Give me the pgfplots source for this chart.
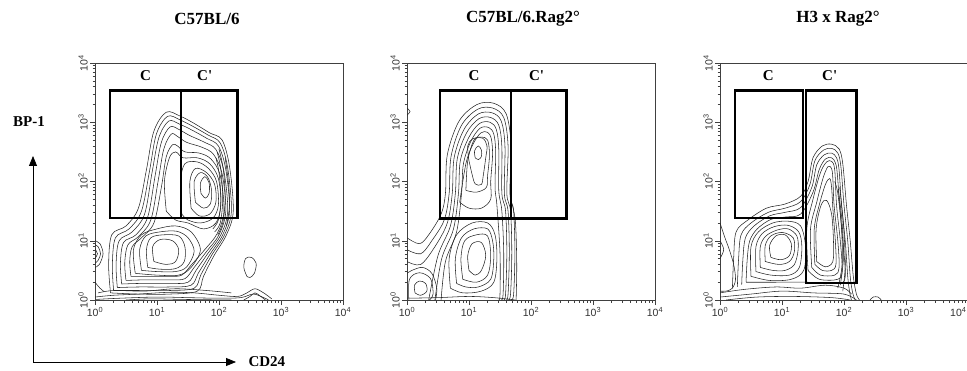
\documentclass[border=0pt]{standalone}
\usepackage{pgfplots}
\pgfplotsset{compat=1.18}
\usepackage{fontspec}
\setmainfont{Liberation Serif}
\setsansfont{Liberation Sans}
\usetikzlibrary{arrows.meta}

\newcommand{\tl}[1]{10\textsuperscript{#1}}
\pgfplotsset{
 facs/.style={scale only axis, width=248pt, height=237pt,
  xmin=0,xmax=4,ymin=0,ymax=4,
  axis line style={black!75, line width=0.6pt},
  xtick={0,1,2,3,4}, ytick={0,1,2,3,4},
  xticklabels={\tl{0},\tl{1},\tl{2},\tl{3},\tl{4}},
  yticklabels={\tl{0},\tl{1},\tl{2},\tl{3},\tl{4}},
  minor xtick={0.301,0.477,0.602,0.699,0.778,0.845,0.903,0.954,1.301,1.477,1.602,1.699,1.778,1.845,1.903,1.954,2.301,2.477,2.602,2.699,2.778,2.845,2.903,2.954,3.301,3.477,3.602,3.699,3.778,3.845,3.903,3.954},
  minor ytick={0.301,0.477,0.602,0.699,0.778,0.845,0.903,0.954,1.301,1.477,1.602,1.699,1.778,1.845,1.903,1.954,2.301,2.477,2.602,2.699,2.778,2.845,2.903,2.954,3.301,3.477,3.602,3.699,3.778,3.845,3.903,3.954},
  tick align=outside, xtick pos=left, ytick pos=left,
  major tick length=5pt, minor tick length=2.5pt,
  every tick/.style={black!75, line width=0.5pt},
  tick label style={font=\sffamily\fontsize{10.5}{10.5}\selectfont, text=black!80, inner sep=2pt},
  yticklabel style={rotate=90, anchor=south},
  xticklabel style={anchor=north},
  clip=true},
 ct/.style={black!85, line width=0.55pt, smooth, tension=0.55, mark=none},
 gate/.style={black, line width=2.5pt, sharp plot, mark=none, line join=miter},
}
\tikzset{glab/.style={font=\bfseries\fontsize{15}{15}\selectfont}}

\begin{document}
\begin{tikzpicture}
\useasboundingbox (0,0) rectangle (967pt,370pt);
\clip (0,0) rectangle (967pt,370pt);

% titles and axis arrows
\node[font=\bfseries\fontsize{17}{17}\selectfont] at (207pt,351pt) {C57BL/6};
\node[font=\bfseries\fontsize{17}{17}\selectfont] at (523pt,351pt) {C57BL/6.Rag2°};
\node[font=\bfseries\fontsize{17}{17}\selectfont] at (838pt,351pt) {H3 x Rag2°};
\node[font=\bfseries\fontsize{15}{15}\selectfont] at (29pt,248pt) {BP-1};
\node[font=\bfseries\fontsize{15}{15}\selectfont, anchor=west] at (245pt,8pt) {CD24};
\draw[-{Triangle[length=10pt,width=8pt]}, line width=0.8pt] (33pt,8pt) -- (33pt,214pt);
\draw[-{Triangle[length=10pt,width=8pt]}, line width=0.8pt] (33pt,8pt) -- (236pt,8pt);

% ---------------- Panel 1: C57BL/6 ----------------
\begin{axis}[facs, at={(95pt,70pt)}, anchor=south west]
\addplot[ct] coordinates {(0.0,0.05)(0.3,0.08)(0.7,0.1)(1.2,0.13)(1.6,0.12)(2.0,0.08)(2.3,0.06)(2.45,0.12)(2.58,0.19)(2.72,0.12)(2.85,0.02)};
\addplot[ct] coordinates {(0.02,0.01)(0.4,0.03)(1.0,0.05)(1.5,0.04)(2.0,0.03)(2.35,0.04)(2.55,0.1)(2.7,0.05)(2.8,0.0)};
\addplot[ct] coordinates {(0.05,0.12)(0.3,0.16)(0.8,0.15)(1.3,0.19)(1.8,0.16)(2.2,0.12)};
\addplot[ct] coordinates {(0.5,0.0)(0.9,0.02)(1.4,0.01)(2.2,0.0)};
\addplot[ct] coordinates {(2.4,0.0)(2.5,0.06)(2.58,0.12)(2.66,0.07)(2.75,0.0)};
\addplot[ct] coordinates {(0.0,0.3)(0.08,0.2)(0.15,0.14)};
% envelope
\addplot[ct] coordinates {(0.25,0.12)(0.22,0.6)(0.27,1.1)(0.5,1.25)(0.7,1.55)(0.83,2.2)(0.95,2.85)(1.15,3.17)(1.38,3.1)(1.6,2.98)(1.85,2.82)(2.05,2.7)(2.17,2.25)(2.23,1.5)(2.12,1.1)(1.92,0.75)(1.75,0.4)(1.65,0.15)(1.2,0.1)(0.7,0.1)(0.25,0.12)};
\addplot[ct] coordinates {(0.3,0.16)(0.28,0.6)(0.33,1.05)(0.55,1.2)(0.75,1.5)(0.88,2.18)(0.99,2.8)(1.17,3.1)(1.37,3.04)(1.58,2.93)(1.83,2.78)(2.02,2.65)(2.14,2.23)(2.2,1.5)(2.09,1.1)(1.89,0.77)(1.71,0.43)(1.6,0.2)(1.2,0.16)(0.7,0.16)(0.3,0.16)};
\addplot[ct] coordinates {(0.36,0.21)(0.34,0.6)(0.39,1.0)(0.6,1.15)(0.8,1.45)(0.92,2.15)(1.03,2.74)(1.19,3.02)(1.36,2.97)(1.56,2.87)(1.8,2.73)(1.99,2.6)(2.11,2.2)(2.17,1.5)(2.06,1.1)(1.86,0.78)(1.67,0.46)(1.55,0.25)(1.2,0.22)(0.72,0.22)(0.36,0.21)};
\addplot[ct] coordinates {(0.43,0.27)(0.41,0.62)(0.46,0.97)(0.66,1.1)(0.85,1.4)(0.97,2.1)(1.07,2.66)(1.21,2.92)(1.35,2.88)(1.52,2.78)(1.77,2.66)(1.95,2.54)(2.08,2.17)(2.14,1.5)(2.03,1.1)(1.83,0.8)(1.63,0.5)(1.5,0.3)(1.2,0.28)(0.75,0.28)(0.43,0.27)};
\addplot[ct] coordinates {(0.5,0.33)(0.48,0.63)(0.53,0.93)(0.7,1.07)(0.9,1.35)(1.02,2.02)(1.11,2.55)(1.23,2.8)(1.33,2.76)(1.48,2.66)(1.72,2.58)(1.91,2.46)(2.05,2.13)(2.11,1.5)(2.0,1.1)(1.8,0.82)(1.6,0.55)(1.45,0.36)(1.2,0.34)(0.8,0.34)(0.5,0.33)};
\addplot[ct] coordinates {(0.58,0.4)(0.56,0.65)(0.6,0.9)(0.75,1.05)(0.95,1.3)(1.07,1.9)(1.15,2.42)(1.25,2.62)(1.33,2.6)(1.45,2.5)(1.68,2.48)(1.87,2.38)(2.02,2.1)(2.08,1.5)(1.97,1.12)(1.77,0.85)(1.56,0.6)(1.4,0.42)(1.2,0.4)(0.85,0.4)(0.58,0.4)};
% dense right edge
\addplot[ct] coordinates {(2.0,2.55)(2.07,2.2)(2.1,1.7)(2.06,1.3)(1.98,1.1)};
\addplot[ct] coordinates {(1.97,2.5)(2.03,2.2)(2.06,1.7)(2.02,1.3)(1.93,1.15)};
\addplot[ct] coordinates {(1.95,2.4)(2.0,2.15)(2.03,1.7)(1.99,1.35)(1.9,1.2)};
\addplot[ct] coordinates {(2.1,2.4)(2.15,2.0)(2.17,1.6)(2.12,1.25)};
% upper C' population
\addplot[ct] coordinates {(1.15,1.5)(1.12,2.0)(1.2,2.4)(1.3,2.5)(1.42,2.4)(1.65,2.4)(1.85,2.3)(1.99,2.05)(2.03,1.6)(1.95,1.3)(1.75,1.2)(1.5,1.3)(1.3,1.35)(1.15,1.5)};
\addplot[ct] coordinates {(1.4,1.45)(1.38,2.0)(1.45,2.3)(1.65,2.33)(1.83,2.22)(1.96,2.0)(1.99,1.6)(1.9,1.38)(1.7,1.3)(1.5,1.35)(1.4,1.45)};
\addplot[ct] coordinates {(1.55,1.55)(1.53,2.0)(1.62,2.22)(1.8,2.15)(1.93,1.95)(1.95,1.65)(1.85,1.45)(1.68,1.42)(1.55,1.55)};
\addplot[ct] coordinates {(1.62,1.65)(1.6,2.0)(1.7,2.15)(1.82,2.07)(1.88,1.85)(1.86,1.62)(1.75,1.55)(1.62,1.65)};
\addplot[ct] coordinates {(1.71,1.8)(1.7,1.97)(1.77,2.08)(1.84,1.98)(1.84,1.8)(1.78,1.72)(1.71,1.8)};
% lower C population
\addplot[ct] coordinates {(0.65,0.45)(0.62,0.85)(0.75,1.1)(1.0,1.2)(1.3,1.25)(1.55,1.15)(1.7,0.85)(1.55,0.55)(1.35,0.42)(1.0,0.42)(0.65,0.45)};
\addplot[ct] coordinates {(0.75,0.5)(0.72,0.85)(0.82,1.08)(1.05,1.15)(1.32,1.16)(1.5,1.05)(1.6,0.82)(1.48,0.56)(1.3,0.48)(1.0,0.48)(0.75,0.5)};
\addplot[ct] coordinates {(0.85,0.55)(0.83,0.85)(0.9,1.05)(1.1,1.1)(1.35,1.08)(1.45,0.9)(1.44,0.65)(1.3,0.53)(1.05,0.52)(0.85,0.55)};
\addplot[ct] coordinates {(0.95,0.65)(0.93,0.9)(1.05,1.02)(1.25,1.0)(1.35,0.85)(1.3,0.65)(1.15,0.6)(0.95,0.65)};
% left blob and small oval
\addplot[ct] coordinates {(0.0,0.55)(0.07,0.6)(0.13,0.78)(0.08,0.95)(0.0,1.0)};
\addplot[ct] coordinates {(0.0,0.62)(0.05,0.67)(0.09,0.78)(0.05,0.9)(0.0,0.93)};
\addplot[ct] coordinates {(0.0,0.7)(0.04,0.78)(0.0,0.86)};
\addplot[ct] coordinates {(2.45,0.4)(2.4,0.55)(2.43,0.7)(2.52,0.72)(2.6,0.62)(2.57,0.45)(2.5,0.38)(2.45,0.4)};
% gates
\addplot[gate] coordinates {(0.245,1.38)(1.39,1.38)(1.39,3.54)(0.245,3.54)(0.245,1.38)(1.39,1.38)};
\addplot[gate] coordinates {(1.39,1.38)(2.30,1.38)(2.30,3.54)(1.39,3.54)(1.39,1.38)(2.30,1.38)};
\node[glab] at (axis cs:0.815,3.78) {C};
\node[glab] at (axis cs:1.77,3.78) {C\textquotesingle};
\end{axis}

% ---------------- Panel 2: C57BL/6.Rag2 ----------------
\begin{axis}[facs, at={(407pt,70pt)}, anchor=south west]
\addplot[ct] coordinates {(0.0,1.05)(0.2,0.95)(0.35,1.1)(0.55,1.45)(0.62,1.8)(0.65,2.45)(0.84,3.02)(1.13,3.3)(1.4,3.32)(1.6,3.14)(1.68,2.6)(1.66,1.8)(1.72,1.5)(1.74,0.8)(1.72,0.1)(1.68,0.0)};
\addplot[ct] coordinates {(0.0,0.85)(0.22,0.78)(0.4,1.0)(0.6,1.35)(0.68,1.8)(0.71,2.42)(0.88,2.95)(1.14,3.22)(1.38,3.24)(1.56,3.08)(1.63,2.6)(1.61,1.8)(1.67,1.5)(1.69,0.8)(1.67,0.1)(1.63,0.0)};
\addplot[ct] coordinates {(0.0,0.65)(0.22,0.6)(0.45,0.9)(0.65,1.3)(0.73,1.8)(0.76,2.4)(0.92,2.88)(1.15,3.14)(1.37,3.16)(1.52,3.02)(1.58,2.6)(1.57,1.8)(1.63,1.5)(1.65,0.8)(1.63,0.1)(1.6,0.0)};
\addplot[ct] coordinates {(0.35,0.0)(0.5,0.75)(0.7,1.25)(0.78,1.8)(0.81,2.38)(0.96,2.82)(1.16,3.06)(1.35,3.08)(1.48,2.95)(1.53,2.58)(1.53,1.8)(1.59,1.5)(1.61,0.8)(1.59,0.1)(1.56,0.0)};
\addplot[ct] coordinates {(0.45,0.0)(0.56,0.7)(0.75,1.2)(0.83,1.8)(0.86,2.35)(1.0,2.75)(1.17,2.98)(1.34,3.0)(1.44,2.88)(1.48,2.55)(1.48,1.85)(1.53,1.5)(1.56,0.8)(1.55,0.1)(1.52,0.0)};
\addplot[ct] coordinates {(0.55,0.0)(0.62,0.65)(0.8,1.15)(0.88,1.8)(0.91,2.3)(1.03,2.68)(1.18,2.9)(1.32,2.91)(1.4,2.8)(1.43,2.5)(1.42,1.9)(1.45,1.6)(1.5,0.8)(1.5,0.1)(1.48,0.0)};
\addplot[ct] coordinates {(1.76,0.0)(1.77,0.6)(1.75,1.3)(1.7,1.6)};
% upper population
\addplot[ct] coordinates {(0.85,1.65)(0.95,2.3)(1.06,2.62)(1.19,2.82)(1.3,2.83)(1.36,2.72)(1.38,2.45)(1.35,2.0)(1.35,1.7)(1.2,1.55)(1.0,1.55)(0.85,1.65)};
\addplot[ct] coordinates {(0.95,1.85)(0.98,2.35)(1.08,2.7)(1.2,2.75)(1.3,2.7)(1.33,2.45)(1.3,2.1)(1.28,1.9)(1.12,1.82)(0.95,1.85)};
\addplot[ct] coordinates {(1.0,2.35)(0.98,2.6)(1.06,2.72)(1.22,2.73)(1.29,2.6)(1.27,2.4)(1.23,2.1)(1.2,1.95)(1.1,1.96)(1.05,2.12)(1.0,2.35)};
\addplot[ct] coordinates {(1.1,2.4)(1.09,2.52)(1.15,2.6)(1.2,2.53)(1.2,2.42)(1.15,2.37)(1.1,2.4)};
% lower population
\addplot[ct] coordinates {(0.7,0.2)(0.68,0.7)(0.8,1.1)(1.05,1.3)(1.3,1.3)(1.42,1.1)(1.45,0.7)(1.4,0.3)(1.2,0.15)(0.9,0.12)(0.7,0.2)};
\addplot[ct] coordinates {(0.8,0.28)(0.78,0.7)(0.88,1.05)(1.08,1.2)(1.3,1.2)(1.38,1.0)(1.4,0.7)(1.35,0.35)(1.15,0.22)(0.95,0.22)(0.8,0.28)};
\addplot[ct] coordinates {(0.9,0.35)(0.87,0.7)(0.93,1.0)(1.12,1.1)(1.3,1.08)(1.35,0.75)(1.3,0.42)(1.12,0.3)(0.9,0.35)};
\addplot[ct] coordinates {(1.0,0.5)(0.98,0.75)(1.05,0.95)(1.2,0.97)(1.27,0.75)(1.2,0.5)(1.1,0.42)(1.0,0.5)};
% bottom left
\addplot[ct] coordinates {(0.13,0.12)(0.12,0.25)(0.2,0.32)(0.3,0.28)(0.32,0.15)(0.22,0.08)(0.13,0.12)};
\addplot[ct] coordinates {(0.03,0.0)(0.04,0.35)(0.2,0.46)(0.38,0.36)(0.42,0.1)(0.36,0.0)};
\addplot[ct] coordinates {(0.0,0.45)(0.08,0.5)(0.25,0.55)(0.4,0.45)(0.48,0.2)(0.46,0.0)};
\addplot[ct] coordinates {(0.0,0.03)(0.5,0.04)(1.0,0.06)(1.4,0.04)(1.75,0.0)};
\addplot[ct] coordinates {(0.0,3.12)(0.05,3.18)(0.0,3.24)};
% gates
\addplot[gate] coordinates {(0.536,1.377)(1.677,1.377)(1.677,3.54)(0.536,3.54)(0.536,1.377)(1.677,1.377)};
\addplot[gate] coordinates {(1.677,1.377)(2.57,1.377)(2.57,3.54)(1.677,3.54)(1.677,1.377)(2.57,1.377)};
\node[glab] at (axis cs:1.08,3.78) {C};
\node[glab] at (axis cs:2.09,3.78) {C\textquotesingle};
\end{axis}

% ---------------- Panel 3: H3 x Rag2 ----------------
\begin{axis}[facs, at={(720pt,70pt)}, anchor=south west,
  xticklabels={\tl{0},\tl{1},\tl{2},\tl{3},\makebox[0pt][r]{\tl{4}\hspace{1.5pt}}}]
% bottom band
\addplot[ct] coordinates {(0.0,0.05)(0.5,0.1)(1.0,0.15)(1.5,0.12)(2.0,0.1)(2.2,0.0)};
\addplot[ct] coordinates {(0.0,0.12)(0.4,0.18)(0.9,0.22)(1.3,0.2)(1.7,0.25)(2.0,0.2)(2.12,0.1)};
\addplot[ct] coordinates {(0.1,0.0)(0.6,0.05)(1.2,0.06)(1.8,0.04)(2.1,0.0)};
\addplot[ct] coordinates {(2.42,0.0)(2.47,0.05)(2.55,0.05)(2.6,0.0)};
% left edge
\addplot[ct] coordinates {(0.0,1.3)(0.08,1.05)(0.15,0.85)(0.22,0.6)(0.25,0.35)(0.2,0.2)(0.1,0.15)(0.0,0.15)};
\addplot[ct] coordinates {(0.0,1.0)(0.06,0.85)(0.0,0.7)};
% envelope
\addplot[ct] coordinates {(0.2,0.2)(0.22,0.7)(0.26,1.15)(0.45,1.35)(0.75,1.55)(1.05,1.62)(1.3,1.75)(1.42,2.0)(1.5,2.4)(1.65,2.6)(1.8,2.63)(1.92,2.55)(1.98,2.3)(2.04,1.6)(2.1,1.0)(2.15,0.4)(2.2,0.1)(2.25,0.0)};
\addplot[ct] coordinates {(0.28,0.22)(0.3,0.7)(0.34,1.1)(0.5,1.3)(0.78,1.48)(1.05,1.55)(1.3,1.66)(1.45,1.95)(1.53,2.35)(1.67,2.53)(1.8,2.56)(1.9,2.48)(1.95,2.25)(2.0,1.6)(2.06,1.0)(2.1,0.4)(2.14,0.12)(2.18,0.0)};
\addplot[ct] coordinates {(0.35,0.26)(0.37,0.7)(0.41,1.05)(0.55,1.25)(0.8,1.42)(1.05,1.48)(1.3,1.56)(1.48,1.9)(1.56,2.28)(1.68,2.45)(1.8,2.48)(1.88,2.4)(1.92,2.2)(1.96,1.6)(2.02,1.0)(2.06,0.4)(2.09,0.14)(2.12,0.0)};
\addplot[ct] coordinates {(0.42,0.3)(0.44,0.7)(0.48,1.0)(0.6,1.2)(0.82,1.36)(1.05,1.4)(1.3,1.45)(1.5,1.82)(1.6,2.2)(1.7,2.38)(1.8,2.4)(1.86,2.32)(1.89,2.15)(1.93,1.6)(1.98,1.0)(2.02,0.4)(1.9,0.28)(1.4,0.3)(0.9,0.3)(0.42,0.3)};
% dense right edge of C'
\addplot[ct] coordinates {(1.9,0.2)(1.97,0.6)(1.96,1.2)(1.9,1.8)(1.85,2.0)};
\addplot[ct] coordinates {(1.98,0.15)(2.02,0.6)(1.99,1.3)(1.93,1.9)};
\addplot[ct] coordinates {(1.94,0.25)(1.99,0.7)(1.97,1.3)(1.91,1.85)};
% C' population
\addplot[ct] coordinates {(1.42,0.5)(1.4,1.2)(1.5,1.7)(1.62,2.15)(1.72,2.33)(1.8,2.34)(1.85,2.2)(1.88,1.6)(1.94,1.0)(1.97,0.5)(1.9,0.35)(1.6,0.35)(1.42,0.5)};
\addplot[ct] coordinates {(1.48,0.55)(1.46,1.2)(1.56,1.65)(1.66,2.05)(1.74,2.25)(1.8,2.22)(1.82,2.05)(1.84,1.6)(1.9,1.0)(1.92,0.55)(1.85,0.42)(1.62,0.42)(1.48,0.55)};
\addplot[ct] coordinates {(1.53,0.6)(1.52,1.2)(1.6,1.6)(1.7,1.95)(1.77,2.05)(1.8,1.9)(1.82,1.55)(1.86,1.0)(1.87,0.6)(1.8,0.5)(1.65,0.5)(1.53,0.6)};
\addplot[ct] coordinates {(1.56,0.65)(1.55,1.2)(1.63,1.6)(1.72,1.68)(1.8,1.45)(1.83,1.0)(1.82,0.65)(1.7,0.56)(1.56,0.65)};
% C population
\addplot[ct] coordinates {(0.5,0.4)(0.5,0.9)(0.62,1.15)(0.85,1.3)(1.1,1.33)(1.3,1.25)(1.38,0.9)(1.35,0.5)(1.15,0.35)(0.8,0.33)(0.5,0.4)};
\addplot[ct] coordinates {(0.58,0.48)(0.58,0.9)(0.68,1.12)(0.88,1.24)(1.1,1.26)(1.27,1.15)(1.32,0.9)(1.28,0.55)(1.12,0.42)(0.82,0.42)(0.58,0.48)};
\addplot[ct] coordinates {(0.65,0.55)(0.65,0.9)(0.74,1.08)(0.92,1.18)(1.1,1.2)(1.24,1.08)(1.26,0.85)(1.2,0.6)(1.05,0.5)(0.85,0.5)(0.65,0.55)};
\addplot[ct] coordinates {(0.73,0.65)(0.73,0.92)(0.82,1.08)(1.0,1.14)(1.18,1.05)(1.2,0.82)(1.12,0.65)(0.95,0.6)(0.73,0.65)};
\addplot[ct] coordinates {(0.82,0.72)(0.8,0.92)(0.9,1.08)(1.05,1.1)(1.15,0.95)(1.12,0.75)(0.98,0.68)(0.82,0.72)};
% gates
\addplot[gate] coordinates {(0.241,1.38)(1.34,1.38)(1.34,3.54)(0.241,3.54)(0.241,1.38)(1.34,1.38)};
\addplot[gate] coordinates {(1.39,0.29)(2.2,0.29)(2.2,3.54)(1.39,3.54)(1.39,0.29)(2.2,0.29)};
\node[glab] at (axis cs:0.78,3.78) {C};
\node[glab] at (axis cs:1.77,3.78) {C\textquotesingle};
\end{axis}
\end{tikzpicture}
\end{document}
